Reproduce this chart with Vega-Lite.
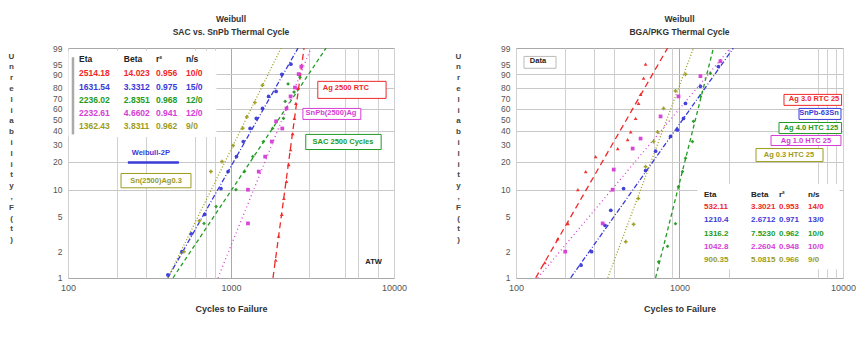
{
  "$schema": "https://vega.github.io/schema/vega-lite/v6.json",
  "background": "white",
  "padding": {"left": 7, "top": 14, "right": 0, "bottom": 0},
  "spacing": 46,
  "config": {
    "font": "Liberation Sans",
    "view": {"stroke": "#a8a8a8"},
    "title": {"fontSize": 8.5, "fontWeight": "bold", "lineHeight": 13, "offset": 8, "color": "#333", "font": "Liberation Sans"}
  },
  "datasets": {
    "fits": [
      {"panel": "L", "series": "S1", "cycles": 1810, "F": 1}, {"panel": "L", "series": "S1", "cycles": 2805, "F": 99},
      {"panel": "L", "series": "S2", "cycles": 410, "F": 1}, {"panel": "L", "series": "S2", "cycles": 2576, "F": 99},
      {"panel": "L", "series": "S3", "cycles": 441, "F": 1}, {"panel": "L", "series": "S3", "cycles": 3828, "F": 99},
      {"panel": "L", "series": "S4", "cycles": 832, "F": 1}, {"panel": "L", "series": "S4", "cycles": 3097, "F": 99},
      {"panel": "L", "series": "S5", "cycles": 410, "F": 1}, {"panel": "L", "series": "S5", "cycles": 2027, "F": 99},
      {"panel": "R", "series": "S1", "cycles": 132, "F": 1}, {"panel": "R", "series": "S1", "cycles": 845, "F": 99},
      {"panel": "R", "series": "S2", "cycles": 216, "F": 1}, {"panel": "R", "series": "S2", "cycles": 2134, "F": 99},
      {"panel": "R", "series": "S3", "cycles": 714, "F": 1}, {"panel": "R", "series": "S3", "cycles": 1612, "F": 99},
      {"panel": "R", "series": "S4", "cycles": 136, "F": 1}, {"panel": "R", "series": "S4", "cycles": 2047, "F": 99},
      {"panel": "R", "series": "S5", "cycles": 364, "F": 1}, {"panel": "R", "series": "S5", "cycles": 1217, "F": 99}
    ],
    "pts": [
      {"panel": "L", "series": "S1", "cycles": 1880, "F": 1.6}, {"panel": "L", "series": "S1", "cycles": 1960, "F": 3.0},
      {"panel": "L", "series": "S1", "cycles": 2050, "F": 5.3}, {"panel": "L", "series": "S1", "cycles": 2110, "F": 8.0},
      {"panel": "L", "series": "S1", "cycles": 2190, "F": 12.3}, {"panel": "L", "series": "S1", "cycles": 2260, "F": 18.6},
      {"panel": "L", "series": "S1", "cycles": 2320, "F": 26.5}, {"panel": "L", "series": "S1", "cycles": 2390, "F": 37.6},
      {"panel": "L", "series": "S1", "cycles": 2450, "F": 50.6}, {"panel": "L", "series": "S1", "cycles": 2500, "F": 65.1},
      {"panel": "L", "series": "S1", "cycles": 2570, "F": 79.3}, {"panel": "L", "series": "S1", "cycles": 2640, "F": 89.9},
      {"panel": "L", "series": "S2", "cycles": 410, "F": 1.08}, {"panel": "L", "series": "S2", "cycles": 500, "F": 2.0},
      {"panel": "L", "series": "S2", "cycles": 570, "F": 3.2}, {"panel": "L", "series": "S2", "cycles": 690, "F": 5.3},
      {"panel": "L", "series": "S2", "cycles": 868, "F": 10.3}, {"panel": "L", "series": "S2", "cycles": 960, "F": 15.7},
      {"panel": "L", "series": "S2", "cycles": 1080, "F": 22.5}, {"panel": "L", "series": "S2", "cycles": 1190, "F": 31.7},
      {"panel": "L", "series": "S2", "cycles": 1310, "F": 41.7}, {"panel": "L", "series": "S2", "cycles": 1430, "F": 50.6},
      {"panel": "L", "series": "S2", "cycles": 1560, "F": 60.2}, {"panel": "L", "series": "S2", "cycles": 1700, "F": 71.9},
      {"panel": "L", "series": "S2", "cycles": 1891, "F": 76.5}, {"panel": "L", "series": "S2", "cycles": 2050, "F": 89.9},
      {"panel": "L", "series": "S2", "cycles": 2330, "F": 95.0},
      {"panel": "L", "series": "S3", "cycles": 683, "F": 4.2}, {"panel": "L", "series": "S3", "cycles": 810, "F": 6.5},
      {"panel": "L", "series": "S3", "cycles": 1073, "F": 10.0}, {"panel": "L", "series": "S3", "cycles": 1210, "F": 15.7},
      {"panel": "L", "series": "S3", "cycles": 1360, "F": 22.5}, {"panel": "L", "series": "S3", "cycles": 1580, "F": 31.7},
      {"panel": "L", "series": "S3", "cycles": 1800, "F": 41.7}, {"panel": "L", "series": "S3", "cycles": 2100, "F": 50.6},
      {"panel": "L", "series": "S3", "cycles": 2150, "F": 67.1}, {"panel": "L", "series": "S3", "cycles": 2240, "F": 83.0},
      {"panel": "L", "series": "S3", "cycles": 2440, "F": 76.0}, {"panel": "L", "series": "S3", "cycles": 2650, "F": 88.0},
      {"panel": "L", "series": "S4", "cycles": 1271, "F": 4.2}, {"panel": "L", "series": "S4", "cycles": 1271, "F": 10.0},
      {"panel": "L", "series": "S4", "cycles": 1480, "F": 15.7}, {"panel": "L", "series": "S4", "cycles": 1620, "F": 22.5},
      {"panel": "L", "series": "S4", "cycles": 1780, "F": 31.7}, {"panel": "L", "series": "S4", "cycles": 2063, "F": 41.7},
      {"panel": "L", "series": "S4", "cycles": 1891, "F": 48.0}, {"panel": "L", "series": "S4", "cycles": 2190, "F": 60.2},
      {"panel": "L", "series": "S4", "cycles": 2320, "F": 71.9}, {"panel": "L", "series": "S4", "cycles": 2470, "F": 80.0},
      {"panel": "L", "series": "S4", "cycles": 2600, "F": 90.0}, {"panel": "L", "series": "S4", "cycles": 2700, "F": 94.0},
      {"panel": "L", "series": "S5", "cycles": 514, "F": 2.0}, {"panel": "L", "series": "S5", "cycles": 640, "F": 4.5},
      {"panel": "L", "series": "S5", "cycles": 753, "F": 15.7}, {"panel": "L", "series": "S5", "cycles": 880, "F": 20.0},
      {"panel": "L", "series": "S5", "cycles": 1030, "F": 29.0}, {"panel": "L", "series": "S5", "cycles": 1180, "F": 42.0},
      {"panel": "L", "series": "S5", "cycles": 1250, "F": 52.0}, {"panel": "L", "series": "S5", "cycles": 1400, "F": 66.0},
      {"panel": "L", "series": "S5", "cycles": 1560, "F": 82.0},
      {"panel": "R", "series": "S1", "cycles": 150, "F": 1.5}, {"panel": "R", "series": "S1", "cycles": 180, "F": 2.8},
      {"panel": "R", "series": "S1", "cycles": 208, "F": 4.17}, {"panel": "R", "series": "S1", "cycles": 239, "F": 10.0},
      {"panel": "R", "series": "S1", "cycles": 267, "F": 15.7}, {"panel": "R", "series": "S1", "cycles": 307, "F": 22.5},
      {"panel": "R", "series": "S1", "cycles": 419, "F": 27.1}, {"panel": "R", "series": "S1", "cycles": 482, "F": 33.1},
      {"panel": "R", "series": "S1", "cycles": 503, "F": 38.9}, {"panel": "R", "series": "S1", "cycles": 539, "F": 50.6},
      {"panel": "R", "series": "S1", "cycles": 562, "F": 65.1}, {"panel": "R", "series": "S1", "cycles": 578, "F": 73.8},
      {"panel": "R", "series": "S1", "cycles": 603, "F": 87.3}, {"panel": "R", "series": "S1", "cycles": 620, "F": 95.0},
      {"panel": "R", "series": "S2", "cycles": 250, "F": 1.4}, {"panel": "R", "series": "S2", "cycles": 290, "F": 2.0},
      {"panel": "R", "series": "S2", "cycles": 350, "F": 4.0}, {"panel": "R", "series": "S2", "cycles": 380, "F": 5.9},
      {"panel": "R", "series": "S2", "cycles": 455, "F": 10.3}, {"panel": "R", "series": "S2", "cycles": 620, "F": 16.1},
      {"panel": "R", "series": "S2", "cycles": 714, "F": 25.5}, {"panel": "R", "series": "S2", "cycles": 881, "F": 35.4},
      {"panel": "R", "series": "S2", "cycles": 972, "F": 40.5}, {"panel": "R", "series": "S2", "cycles": 1058, "F": 50.6},
      {"panel": "R", "series": "S2", "cycles": 1088, "F": 65.1}, {"panel": "R", "series": "S2", "cycles": 1343, "F": 81.0},
      {"panel": "R", "series": "S2", "cycles": 1729, "F": 94.0},
      {"panel": "R", "series": "S3", "cycles": 745, "F": 1.53}, {"panel": "R", "series": "S3", "cycles": 845, "F": 2.3},
      {"panel": "R", "series": "S3", "cycles": 945, "F": 4.17}, {"panel": "R", "series": "S3", "cycles": 986, "F": 10.8},
      {"panel": "R", "series": "S3", "cycles": 1043, "F": 15.7}, {"panel": "R", "series": "S3", "cycles": 1088, "F": 21.7},
      {"panel": "R", "series": "S3", "cycles": 1200, "F": 31.7}, {"panel": "R", "series": "S3", "cycles": 1217, "F": 48.0},
      {"panel": "R", "series": "S3", "cycles": 1343, "F": 71.9}, {"panel": "R", "series": "S3", "cycles": 1545, "F": 90.5},
      {"panel": "R", "series": "S4", "cycles": 200, "F": 2.0}, {"panel": "R", "series": "S4", "cycles": 339, "F": 4.2},
      {"panel": "R", "series": "S4", "cycles": 390, "F": 10.0}, {"panel": "R", "series": "S4", "cycles": 396, "F": 16.5},
      {"panel": "R", "series": "S4", "cycles": 517, "F": 27.1}, {"panel": "R", "series": "S4", "cycles": 578, "F": 33.8},
      {"panel": "R", "series": "S4", "cycles": 766, "F": 52.5}, {"panel": "R", "series": "S4", "cycles": 986, "F": 71.9},
      {"panel": "R", "series": "S4", "cycles": 1343, "F": 88.7}, {"panel": "R", "series": "S4", "cycles": 1778, "F": 96.1},
      {"panel": "R", "series": "S5", "cycles": 469, "F": 2.6}, {"panel": "R", "series": "S5", "cycles": 524, "F": 4.1},
      {"panel": "R", "series": "S5", "cycles": 560, "F": 8.0}, {"panel": "R", "series": "S5", "cycles": 620, "F": 17.7},
      {"panel": "R", "series": "S5", "cycles": 694, "F": 31.7}, {"panel": "R", "series": "S5", "cycles": 734, "F": 38.9},
      {"panel": "R", "series": "S5", "cycles": 799, "F": 60.2}, {"panel": "R", "series": "S5", "cycles": 945, "F": 77.0},
      {"panel": "R", "series": "S5", "cycles": 1088, "F": 89.9}
    ],
    "boxes": [
      {"panel": "L", "series": "BG", "cycles": 101.4, "cycles2": 808, "F": 98.55, "F2": 35.3},
      {"panel": "L", "series": "S1", "cycles": 3408, "cycles2": 8942, "F": 85.0, "F2": 70.0},
      {"panel": "L", "series": "S4", "cycles": 2762, "cycles2": 6258, "F": 60.2, "F2": 49.7},
      {"panel": "L", "series": "S3", "cycles": 2875, "cycles2": 8341, "F": 36.9, "F2": 26.5},
      {"panel": "L", "series": "S5", "cycles": 211.5, "cycles2": 568, "F": 15.0, "F2": 10.5},
      {"panel": "R", "series": "BG", "cycles": 1295, "cycles2": 9454, "F": 11.4, "F2": 1.27},
      {"panel": "R", "series": "G", "cycles": 111.9, "cycles2": 175.7, "F": 97.5, "F2": 93.2},
      {"panel": "R", "series": "S1", "cycles": 4356, "cycles2": 9800, "F": 73.8, "F2": 63.2},
      {"panel": "R", "series": "S2", "cycles": 5382, "cycles2": 9720, "F": 60.2, "F2": 49.7},
      {"panel": "R", "series": "S3", "cycles": 4060, "cycles2": 9800, "F": 46.9, "F2": 37.6},
      {"panel": "R", "series": "S4", "cycles": 3629, "cycles2": 9720, "F": 36.1, "F2": 29.0},
      {"panel": "R", "series": "S5", "cycles": 2937, "cycles2": 7547, "F": 27.1, "F2": 20.0}
    ],
    "rules": [
      {"panel": "L", "series": "S2", "cycles": 233, "cycles2": 479, "F": 19.6, "F2": 19.6},
      {"panel": "L", "series": "G", "cycles": 107.3, "cycles2": 107.3, "F": 97.3, "F2": 36.9}
    ],
    "cells": [
      {"panel": "L", "series": "H", "cycles": 116.8, "F": 96.7, "label": "Eta"},
      {"panel": "L", "series": "H", "cycles": 220, "F": 96.7, "label": "Beta"},
      {"panel": "L", "series": "H", "cycles": 346.6, "F": 96.7, "label": "r²"},
      {"panel": "L", "series": "H", "cycles": 530, "F": 96.7, "label": "n/s"},
      {"panel": "L", "series": "S1", "cycles": 116.8, "F": 90.5, "label": "2514.18"},
      {"panel": "L", "series": "S1", "cycles": 220, "F": 90.5, "label": "14.023"},
      {"panel": "L", "series": "S1", "cycles": 346.6, "F": 90.5, "label": "0.956"},
      {"panel": "L", "series": "S1", "cycles": 530, "F": 90.5, "label": "10/0"},
      {"panel": "L", "series": "S2", "cycles": 116.8, "F": 80.1, "label": "1631.54"},
      {"panel": "L", "series": "S2", "cycles": 220, "F": 80.1, "label": "3.3312"},
      {"panel": "L", "series": "S2", "cycles": 346.6, "F": 80.1, "label": "0.975"},
      {"panel": "L", "series": "S2", "cycles": 530, "F": 80.1, "label": "15/0"},
      {"panel": "L", "series": "S3", "cycles": 116.8, "F": 68.1, "label": "2236.02"},
      {"panel": "L", "series": "S3", "cycles": 220, "F": 68.1, "label": "2.8351"},
      {"panel": "L", "series": "S3", "cycles": 346.6, "F": 68.1, "label": "0.968"},
      {"panel": "L", "series": "S3", "cycles": 530, "F": 68.1, "label": "12/0"},
      {"panel": "L", "series": "S4", "cycles": 116.8, "F": 55.4, "label": "2232.61"},
      {"panel": "L", "series": "S4", "cycles": 220, "F": 55.4, "label": "4.6602"},
      {"panel": "L", "series": "S4", "cycles": 346.6, "F": 55.4, "label": "0.941"},
      {"panel": "L", "series": "S4", "cycles": 530, "F": 55.4, "label": "12/0"},
      {"panel": "L", "series": "S5", "cycles": 116.8, "F": 43.4, "label": "1362.43"},
      {"panel": "L", "series": "S5", "cycles": 220, "F": 43.4, "label": "3.8311"},
      {"panel": "L", "series": "S5", "cycles": 346.6, "F": 43.4, "label": "0.962"},
      {"panel": "L", "series": "S5", "cycles": 530, "F": 43.4, "label": "9/0"},
      {"panel": "R", "series": "H", "cycles": 1412, "F": 8.83, "label": "Eta"},
      {"panel": "R", "series": "H", "cycles": 2737, "F": 8.83, "label": "Beta"},
      {"panel": "R", "series": "H", "cycles": 4060, "F": 8.83, "label": "r²"},
      {"panel": "R", "series": "H", "cycles": 6109, "F": 8.83, "label": "n/s"},
      {"panel": "R", "series": "S1", "cycles": 1412, "F": 6.5, "label": "532.11"},
      {"panel": "R", "series": "S1", "cycles": 2737, "F": 6.5, "label": "3.3021"},
      {"panel": "R", "series": "S1", "cycles": 4060, "F": 6.5, "label": "0.953"},
      {"panel": "R", "series": "S1", "cycles": 6109, "F": 6.5, "label": "14/0"},
      {"panel": "R", "series": "S2", "cycles": 1412, "F": 4.63, "label": "1210.4"},
      {"panel": "R", "series": "S2", "cycles": 2737, "F": 4.63, "label": "2.6712"},
      {"panel": "R", "series": "S2", "cycles": 4060, "F": 4.63, "label": "0.971"},
      {"panel": "R", "series": "S2", "cycles": 6109, "F": 4.63, "label": "13/0"},
      {"panel": "R", "series": "S3", "cycles": 1412, "F": 3.2, "label": "1316.2"},
      {"panel": "R", "series": "S3", "cycles": 2737, "F": 3.2, "label": "7.5230"},
      {"panel": "R", "series": "S3", "cycles": 4060, "F": 3.2, "label": "0.962"},
      {"panel": "R", "series": "S3", "cycles": 6109, "F": 3.2, "label": "10/0"},
      {"panel": "R", "series": "S4", "cycles": 1412, "F": 2.28, "label": "1042.8"},
      {"panel": "R", "series": "S4", "cycles": 2737, "F": 2.28, "label": "2.2604"},
      {"panel": "R", "series": "S4", "cycles": 4060, "F": 2.28, "label": "0.948"},
      {"panel": "R", "series": "S4", "cycles": 6109, "F": 2.28, "label": "10/0"},
      {"panel": "R", "series": "S5", "cycles": 1412, "F": 1.61, "label": "900.35"},
      {"panel": "R", "series": "S5", "cycles": 2737, "F": 1.61, "label": "5.0815"},
      {"panel": "R", "series": "S5", "cycles": 4060, "F": 1.61, "label": "0.966"},
      {"panel": "R", "series": "S5", "cycles": 6109, "F": 1.61, "label": "9/0"}
    ],
    "tags": [
      {"panel": "L", "series": "S1", "cycles": 5069, "F": 79.3, "label": "Ag 2500 RTC"},
      {"panel": "L", "series": "S4", "cycles": 4106, "F": 55.4, "label": "SnPb(2500)Ag"},
      {"panel": "L", "series": "S3", "cycles": 4866, "F": 31.7, "label": "SAC 2500 Cycles"},
      {"panel": "L", "series": "S2", "cycles": 322, "F": 24.2, "label": "Weibull-2P"},
      {"panel": "L", "series": "S5", "cycles": 346.6, "F": 12.6, "label": "Sn(2500)Ag0.3"},
      {"panel": "L", "series": "H", "cycles": 7500, "F": 1.53, "label": "ATW"},
      {"panel": "R", "series": "H", "cycles": 136.3, "F": 96.1, "label": "Data"},
      {"panel": "R", "series": "S1", "cycles": 6650, "F": 69.0, "label": "Ag 3.0 RTC 25"},
      {"panel": "R", "series": "S2", "cycles": 7132, "F": 55.4, "label": "SnPb-63Sn"},
      {"panel": "R", "series": "S3", "cycles": 6370, "F": 41.7, "label": "Ag 4.0 HTC 125"},
      {"panel": "R", "series": "S4", "cycles": 5937, "F": 32.4, "label": "Ag 1.0 HTC 25"},
      {"panel": "R", "series": "S5", "cycles": 4673, "F": 23.6, "label": "Ag 0.3 HTC 25"}
    ]
  },
  "hconcat": [
    {
      "width": 326,
      "height": 230,
      "title": {"text": ["Weibull", "SAC vs. SnPb Thermal Cycle"]},
      "encoding": {
        "x": {"field": "cycles", "type": "quantitative", "scale": {"type": "log", "domain": [100, 10000]},
          "axis": {"values": [100, 200, 300, 600, 700, 800, 1000, 3000, 5000, 6000, 8000, 10000],
            "labelExpr": "(datum.value==100||datum.value==1000||datum.value==10000) ? format(datum.value,'d') : ''",
            "labelFontSize": 9, "labelColor": "#555", "labelPadding": 5, "labelFlush": false, "labelOverlap": false,
            "ticks": false, "domain": false, "grid": true,
            "gridColor": {"condition": {"test": "datum.value==1000", "value": "#aaaaaa"}, "value": "#d0d0d0"},
            "title": "Cycles to Failure", "titleFontSize": 9, "titleFontWeight": "bold", "titleColor": "#333", "titlePadding": 12}},
        "y": {"field": "z", "type": "quantitative", "scale": {"domain": [-4.605, 1.53], "nice": false, "zero": false},
          "axis": {"values": [1.5272, 1.0972, 0.834, 0.4759, 0.1856, -0.0874, -0.3665, -0.6717, -1.0309, -1.4999, -2.2504, -2.9702, -3.9019, -4.6001],
            "labelExpr": "indexof([1.0972,0.4759,-0.0874,-0.6717,-1.4999,-2.9702,-3.9019], datum.value) >= 0 ? format((1-exp(-exp(datum.value)))*100,'.0f') + '\u00a0\u00a0\u00a0\u00a0\u00a0\u00a0\u00a0\u00a0' : format((1-exp(-exp(datum.value)))*100,'.0f')",
            "labelOverlap": false, "labelFontSize": 8.5, "labelColor": "#555", "labelPadding": 6, "labelFlush": false,
            "ticks": false, "domain": false, "grid": true, "gridColor": "#c8c8c8",
            "gridOpacity": {"condition": {"test": "indexof([0.834,0.4759,-0.0874,-0.6717,-1.4999,-2.2504], datum.value) >= 0", "value": 1}, "value": 0},
            "title": ["U", "n", "r", "e", "l", "i", "a", "b", "i", "l", "i", "t", "y", ",", "F", "(", "t", ")"],
            "titleAngle": 0, "titleX": -57, "titleY": 4, "titleAlign": "center", "titleBaseline": "top",
            "titleLineHeight": 10.8, "titleFontSize": 8, "titleFontWeight": "bold", "titleColor": "#444"}}
      },
      "layer": [
        {
          "data": {"name": "boxes"},
          "transform": [{"filter": "datum.panel=='L'"}, {"calculate": "log(-log(1-datum.F/100))", "as": "z"}, {"calculate": "log(-log(1-datum.F2/100))", "as": "z2"}],
          "mark": {"type": "rect", "fill": "white", "strokeWidth": 1},
          "encoding": {
            "x2": {"field": "cycles2"}, "y2": {"field": "z2"},
            "stroke": {"field": "series", "type": "nominal", "legend": null,
              "scale": {"domain": ["S1", "S2", "S3", "S4", "S5", "BG", "G"], "range": ["#f02828", "#3a3ad8", "#239b23", "#d63cd6", "#9c9c1c", "#ffffff", "#bbbbbb"]}}
          }
        },
        {
          "data": {"name": "fits"},
          "transform": [{"filter": "datum.panel=='L'"}, {"calculate": "log(-log(1-datum.F/100))", "as": "z"}],
          "mark": {"type": "line", "strokeWidth": 1.3, "clip": true},
          "encoding": {
            "color": {"field": "series", "type": "nominal", "legend": null,
              "scale": {"domain": ["S1", "S2", "S3", "S4", "S5", "H", "G"], "range": ["#f02828", "#3a3ad8", "#239b23", "#d63cd6", "#9c9c1c", "#222222", "#aaaaaa"]}},
            "strokeDash": {"field": "series", "type": "nominal", "legend": null,
              "scale": {"domain": ["S1", "S2", "S3", "S4", "S5"], "range": [[6, 4], [5, 2, 1, 2], [4, 3], [1, 3], [1, 2]]}}
          }
        },
        {
          "data": {"name": "pts"},
          "transform": [{"filter": "datum.panel=='L'"}, {"calculate": "log(-log(1-datum.F/100))", "as": "z"}],
          "mark": {"type": "point", "filled": true, "size": 14, "opacity": 0.95},
          "encoding": {
            "color": {"field": "series", "type": "nominal", "legend": null,
              "scale": {"domain": ["S1", "S2", "S3", "S4", "S5", "H", "G"], "range": ["#f02828", "#3a3ad8", "#239b23", "#d63cd6", "#9c9c1c", "#222222", "#aaaaaa"]}},
            "shape": {"field": "series", "type": "nominal", "legend": null,
              "scale": {"domain": ["S1", "S2", "S3", "S4", "S5"], "range": ["triangle-up", "circle", "diamond", "square", "cross"]}}
          }
        },
        {
          "data": {"name": "rules"},
          "transform": [{"filter": "datum.panel=='L'"}, {"calculate": "log(-log(1-datum.F/100))", "as": "z"}, {"calculate": "log(-log(1-datum.F2/100))", "as": "z2"}],
          "mark": {"type": "rule", "strokeWidth": 2.5},
          "encoding": {
            "x2": {"field": "cycles2"}, "y2": {"field": "z2"},
            "color": {"field": "series", "type": "nominal", "legend": null,
              "scale": {"domain": ["S1", "S2", "S3", "S4", "S5", "H", "G"], "range": ["#f02828", "#3a3ad8", "#239b23", "#d63cd6", "#9c9c1c", "#222222", "#aaaaaa"]}}
          }
        },
        {
          "data": {"name": "cells"},
          "transform": [{"filter": "datum.panel=='L'"}, {"calculate": "log(-log(1-datum.F/100))", "as": "z"}],
          "mark": {"type": "text", "align": "left", "baseline": "middle", "fontSize": 8.5, "fontWeight": 600},
          "encoding": {
            "text": {"field": "label"},
            "color": {"field": "series", "type": "nominal", "legend": null,
              "scale": {"domain": ["S1", "S2", "S3", "S4", "S5", "H", "G"], "range": ["#f02828", "#3a3ad8", "#239b23", "#d63cd6", "#9c9c1c", "#222222", "#aaaaaa"]}}
          }
        },
        {
          "data": {"name": "tags"},
          "transform": [{"filter": "datum.panel=='L'"}, {"calculate": "log(-log(1-datum.F/100))", "as": "z"}],
          "mark": {"type": "text", "align": "center", "baseline": "middle", "fontSize": 7.5, "fontWeight": "bold"},
          "encoding": {
            "text": {"field": "label"},
            "color": {"field": "series", "type": "nominal", "legend": null,
              "scale": {"domain": ["S1", "S2", "S3", "S4", "S5", "H", "G"], "range": ["#f02828", "#3a3ad8", "#239b23", "#d63cd6", "#9c9c1c", "#222222", "#aaaaaa"]}}
          }
        }
      ]
    },
    {
      "width": 327,
      "height": 230,
      "title": {"text": ["Weibull", "BGA/PKG Thermal Cycle"]},
      "encoding": {
        "x": {"field": "cycles", "type": "quantitative", "scale": {"type": "log", "domain": [100, 10000]},
          "axis": {"values": [100, 200, 300, 400, 700, 900, 1000, 2000, 7000, 8000, 9000, 10000],
            "labelExpr": "(datum.value==100||datum.value==1000||datum.value==10000) ? format(datum.value,'d') : ''",
            "labelFontSize": 9, "labelColor": "#555", "labelPadding": 5, "labelFlush": false, "labelOverlap": false,
            "ticks": false, "domain": false, "grid": true,
            "gridColor": {"condition": {"test": "datum.value==1000", "value": "#aaaaaa"}, "value": "#d0d0d0"},
            "title": "Cycles to Failure", "titleFontSize": 9, "titleFontWeight": "bold", "titleColor": "#333", "titlePadding": 12}},
        "y": {"field": "z", "type": "quantitative", "scale": {"domain": [-4.605, 1.53], "nice": false, "zero": false},
          "axis": {"values": [1.5272, 1.0972, 0.834, 0.4759, 0.1856, -0.0874, -0.3665, -0.6717, -1.0309, -1.4999, -2.2504, -2.9702, -3.9019, -4.6001],
            "labelExpr": "indexof([1.0972,0.4759,-0.0874,-0.6717,-1.4999,-2.9702,-3.9019], datum.value) >= 0 ? format((1-exp(-exp(datum.value)))*100,'.0f') + '\u00a0\u00a0\u00a0\u00a0\u00a0\u00a0\u00a0\u00a0' : format((1-exp(-exp(datum.value)))*100,'.0f')",
            "labelOverlap": false, "labelFontSize": 8.5, "labelColor": "#555", "labelPadding": 6, "labelFlush": false,
            "ticks": false, "domain": false, "grid": true, "gridColor": "#c8c8c8",
            "gridOpacity": {"condition": {"test": "indexof([0.834,0.4759,-0.0874,-0.6717,-1.4999,-2.2504], datum.value) >= 0", "value": 1}, "value": 0},
            "title": ["U", "n", "r", "e", "l", "i", "a", "b", "i", "l", "i", "t", "y", ",", "F", "(", "t", ")"],
            "titleAngle": 0, "titleX": -58, "titleY": 4, "titleAlign": "center", "titleBaseline": "top",
            "titleLineHeight": 10.8, "titleFontSize": 8, "titleFontWeight": "bold", "titleColor": "#444"}}
      },
      "layer": [
        {
          "data": {"name": "boxes"},
          "transform": [{"filter": "datum.panel=='R'"}, {"calculate": "log(-log(1-datum.F/100))", "as": "z"}, {"calculate": "log(-log(1-datum.F2/100))", "as": "z2"}],
          "mark": {"type": "rect", "fill": "white", "strokeWidth": 1},
          "encoding": {
            "x2": {"field": "cycles2"}, "y2": {"field": "z2"},
            "stroke": {"field": "series", "type": "nominal", "legend": null,
              "scale": {"domain": ["S1", "S2", "S3", "S4", "S5", "BG", "G"], "range": ["#f02828", "#3a3ad8", "#239b23", "#d63cd6", "#9c9c1c", "#ffffff", "#bbbbbb"]}}
          }
        },
        {
          "data": {"name": "fits"},
          "transform": [{"filter": "datum.panel=='R'"}, {"calculate": "log(-log(1-datum.F/100))", "as": "z"}],
          "mark": {"type": "line", "strokeWidth": 1.3, "clip": true},
          "encoding": {
            "color": {"field": "series", "type": "nominal", "legend": null,
              "scale": {"domain": ["S1", "S2", "S3", "S4", "S5", "H", "G"], "range": ["#f02828", "#3a3ad8", "#239b23", "#d63cd6", "#9c9c1c", "#222222", "#aaaaaa"]}},
            "strokeDash": {"field": "series", "type": "nominal", "legend": null,
              "scale": {"domain": ["S1", "S2", "S3", "S4", "S5"], "range": [[2, 2], [5, 2, 1, 2], [4, 2], [8, 2, 2, 2], [1, 2]]}}
          }
        },
        {
          "data": {"name": "pts"},
          "transform": [{"filter": "datum.panel=='R'"}, {"calculate": "log(-log(1-datum.F/100))", "as": "z"}],
          "mark": {"type": "point", "filled": true, "size": 14, "opacity": 0.95},
          "encoding": {
            "color": {"field": "series", "type": "nominal", "legend": null,
              "scale": {"domain": ["S1", "S2", "S3", "S4", "S5", "H", "G"], "range": ["#f02828", "#3a3ad8", "#239b23", "#d63cd6", "#9c9c1c", "#222222", "#aaaaaa"]}},
            "shape": {"field": "series", "type": "nominal", "legend": null,
              "scale": {"domain": ["S1", "S2", "S3", "S4", "S5"], "range": ["triangle-up", "circle", "diamond", "square", "cross"]}}
          }
        },
        {
          "data": {"name": "cells"},
          "transform": [{"filter": "datum.panel=='R'"}, {"calculate": "log(-log(1-datum.F/100))", "as": "z"}],
          "mark": {"type": "text", "align": "left", "baseline": "middle", "fontSize": 8, "fontWeight": 600},
          "encoding": {
            "text": {"field": "label"},
            "color": {"field": "series", "type": "nominal", "legend": null,
              "scale": {"domain": ["S1", "S2", "S3", "S4", "S5", "H", "G"], "range": ["#f02828", "#3a3ad8", "#239b23", "#d63cd6", "#9c9c1c", "#222222", "#aaaaaa"]}}
          }
        },
        {
          "data": {"name": "tags"},
          "transform": [{"filter": "datum.panel=='R'"}, {"calculate": "log(-log(1-datum.F/100))", "as": "z"}],
          "mark": {"type": "text", "align": "center", "baseline": "middle", "fontSize": 7.5, "fontWeight": "bold"},
          "encoding": {
            "text": {"field": "label"},
            "color": {"field": "series", "type": "nominal", "legend": null,
              "scale": {"domain": ["S1", "S2", "S3", "S4", "S5", "H", "G"], "range": ["#f02828", "#3a3ad8", "#239b23", "#d63cd6", "#9c9c1c", "#222222", "#aaaaaa"]}}
          }
        }
      ]
    }
  ]
}
